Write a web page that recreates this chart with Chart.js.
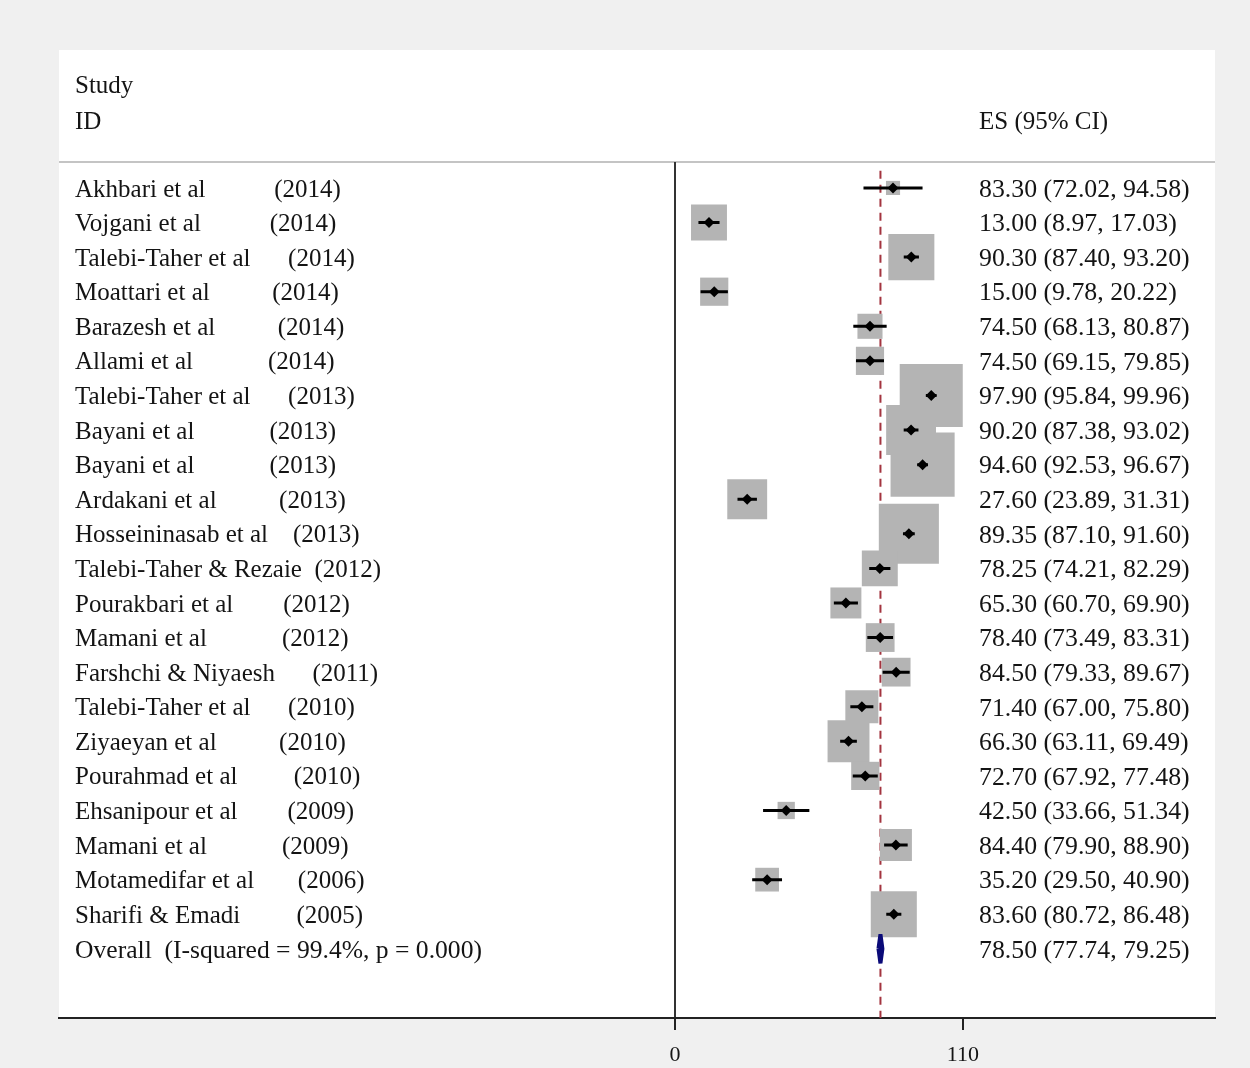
<!DOCTYPE html>
<html lang="en">
<head>
<meta charset="UTF-8">
<title>Forest plot</title>
<style>
  html, body { margin: 0; padding: 0; background: #f0f0f0; overflow: hidden; }
  #wrap { width: 1250px; height: 1068px; }
</style>
</head>
<body>
<div id="wrap"><canvas id="forest" width="1250" height="1068"></canvas></div>

<script src="https://cdn.jsdelivr.net/npm/chart.js"></script>
<script>
// study labels as printed (name padded with spaces before the year)
const studies = [
  'Akhbari et al           (2014)',
  'Vojgani et al           (2014)',
  'Talebi-Taher et al      (2014)',
  'Moattari et al          (2014)',
  'Barazesh et al          (2014)',
  'Allami et al            (2014)',
  'Talebi-Taher et al      (2013)',
  'Bayani et al            (2013)',
  'Bayani et al            (2013)',
  'Ardakani et al          (2013)',
  'Hosseininasab et al    (2013)',
  'Talebi-Taher & Rezaie  (2012)',
  'Pourakbari et al        (2012)',
  'Mamani et al            (2012)',
  'Farshchi & Niyaesh      (2011)',
  'Talebi-Taher et al      (2010)',
  'Ziyaeyan et al          (2010)',
  'Pourahmad et al         (2010)',
  'Ehsanipour et al        (2009)',
  'Mamani et al            (2009)',
  'Motamedifar et al       (2006)',
  'Sharifi & Emadi         (2005)'
];
const es     = [83.30, 13.00, 90.30, 15.00, 74.50, 74.50, 97.90, 90.20, 94.60, 27.60, 89.35, 78.25, 65.30, 78.40, 84.50, 71.40, 66.30, 72.70, 42.50, 84.40, 35.20, 83.60];
const ciLow  = [72.02,  8.97, 87.40,  9.78, 68.13, 69.15, 95.84, 87.38, 92.53, 23.89, 87.10, 74.21, 60.70, 73.49, 79.33, 67.00, 63.11, 67.92, 33.66, 79.90, 29.50, 80.72];
const ciHigh = [94.58, 17.03, 93.20, 20.22, 80.87, 79.85, 99.96, 93.02, 96.67, 31.31, 91.60, 82.29, 69.90, 83.31, 89.67, 75.80, 69.49, 77.48, 51.34, 88.90, 40.90, 86.48];
// % weight
const weights = [0.6, 3.9, 6.4, 2.4, 1.9, 2.4, 12.0, 7.5, 12.4, 4.8, 10.9, 3.9, 2.9, 2.5, 2.5, 3.3, 5.3, 2.4, 0.9, 3.1, 1.7, 6.4];

const overallLabel = 'Overall  (I-squared = 99.4%, p = 0.000)';
const overallEs = [78.50, 77.74, 79.25];   // es, low, high
const xTicks = [0, 110];

const serif = '"Liberation Serif", "Times New Roman", serif';
const textColor = '#141414';
const overallRow = studies.length;

function esText(e, l, h) {
  return e.toFixed(2) + ' (' + l.toFixed(2) + ', ' + h.toFixed(2) + ')';
}

const forestText = {
  id: 'forestText',
  beforeDraw(chart) {
    const ctx = chart.ctx;
    const area = chart.chartArea;
    ctx.save();
    ctx.fillStyle = '#f0f0f0';
    ctx.fillRect(0, 0, chart.width, chart.height);
    ctx.fillStyle = '#ffffff';
    ctx.fillRect(area.left, 50, area.right - area.left, area.bottom - 50);
    ctx.strokeStyle = '#c4c4c4';
    ctx.lineWidth = 2;
    ctx.beginPath();
    ctx.moveTo(area.left, area.top);
    ctx.lineTo(area.right, area.top);
    ctx.stroke();
    ctx.restore();
  },
  afterDraw(chart) {
    const ctx = chart.ctx;
    const y = chart.scales.y;
    ctx.save();
    ctx.fillStyle = textColor;
    ctx.textBaseline = 'middle';
    ctx.textAlign = 'left';

    ctx.font = '25px ' + serif;
    ctx.fillText('Study', 75, 86);
    ctx.fillText('ID', 75, 122);
    ctx.fillText('ES (95% CI)', 979, 122);

    studies.forEach((s, i) => {
      const py = y.getPixelForValue(i) + 2;
      ctx.font = '25px ' + serif;
      ctx.fillText(s, 75, py);
      ctx.font = '25.8px ' + serif;
      ctx.fillText(esText(es[i], ciLow[i], ciHigh[i]), 979, py);
    });
    const oy = y.getPixelForValue(overallRow) + 2;
    ctx.font = '25.6px ' + serif;
    ctx.fillText(overallLabel, 75, oy);
    ctx.font = '25.8px ' + serif;
    ctx.fillText(esText(overallEs[0], overallEs[1], overallEs[2]), 979, oy);
    ctx.restore();
  }
};

const rows = studies.map((s, i) => i);

const ciLines = [];
rows.forEach(i => {
  ciLines.push({ x: ciLow[i], y: i }, { x: ciHigh[i], y: i }, { x: NaN, y: NaN });
});

const diamondHalf = 0.42;
const diamond = [
  { x: overallEs[1], y: overallRow },
  { x: overallEs[0], y: overallRow - diamondHalf },
  { x: overallEs[2], y: overallRow },
  { x: overallEs[0], y: overallRow + diamondHalf },
  { x: overallEs[1], y: overallRow }
];

new Chart(document.getElementById('forest'), {
  type: 'scatter',
  data: {
    datasets: [
      {
        type: 'line',
        data: [{ x: overallEs[0], y: -0.5 }, { x: overallEs[0], y: 24 }],
        borderColor: '#a3343f',
        borderWidth: 2,
        borderDash: [8, 6],
        pointRadius: 0,
        order: 5
      },
      {
        data: rows.map(i => ({ x: es[i], y: i })),
        pointStyle: 'rect',
        pointRadius: ctx => 18.2 * Math.sqrt(weights[ctx.dataIndex]) / Math.SQRT2,
        backgroundColor: '#b4b4b4',
        borderWidth: 0,
        order: 4
      },
      {
        type: 'line',
        data: ciLines,
        borderColor: '#000000',
        borderWidth: 3,
        borderCapStyle: 'butt',
        pointRadius: 0,
        spanGaps: false,
        order: 3
      },
      {
        data: rows.map(i => ({ x: es[i], y: i })),
        pointStyle: 'rectRot',
        pointRadius: 5.5,
        backgroundColor: '#000000',
        borderWidth: 0,
        order: 2
      },
      {
        type: 'line',
        data: diamond,
        borderColor: '#0a0a78',
        backgroundColor: '#0a0a78',
        borderWidth: 4,
        borderJoinStyle: 'bevel',
        fill: 'shape',
        pointRadius: 0,
        order: 1
      }
    ]
  },
  options: {
    responsive: false,
    animation: false,
    devicePixelRatio: 1,
    events: [],
    layout: { autoPadding: false, padding: { left: 59, right: 35, top: 162, bottom: 0 } },
    plugins: { legend: { display: false }, tooltip: { enabled: false } },
    scales: {
      x: {
        type: 'linear',
        position: 'bottom',
        min: -235.3,
        max: 206.3,
        afterBuildTicks: s => { s.ticks = xTicks.map(v => ({ value: v })); },
        afterFit: s => { s.height = 50; },
        grid: {
          color: ctx => (ctx.tick && ctx.tick.value === 0 ? '#333333' : 'rgba(0,0,0,0)'),
          lineWidth: 2,
          tickLength: 12,
          tickColor: '#222222',
          tickWidth: 2
        },
        border: { display: true, color: '#222222', width: 2 },
        ticks: {
          padding: 12,
          color: textColor,
          font: { family: serif, size: 22 },
          maxRotation: 0
        }
      },
      y: {
        type: 'linear',
        reverse: true,
        min: -0.75,
        max: 24,
        display: false
      }
    }
  },
  plugins: [forestText]
});
</script>
</body>
</html>
